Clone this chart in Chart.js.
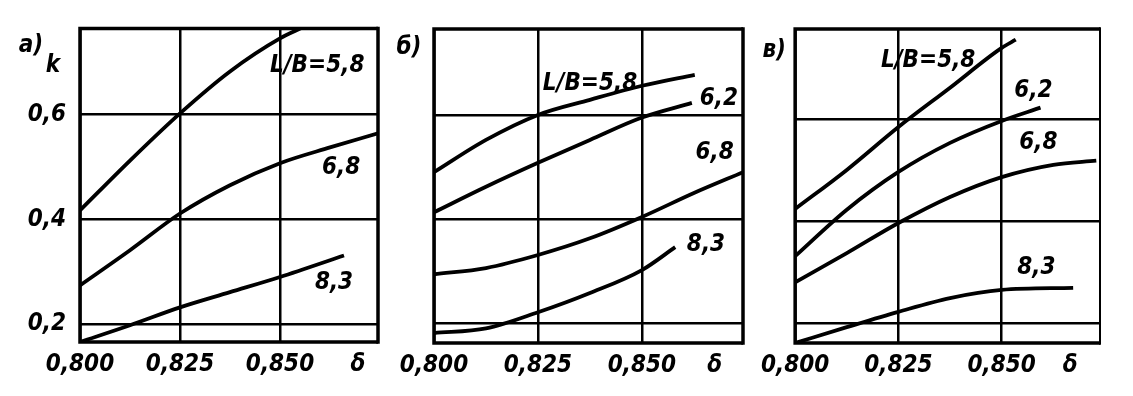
<!DOCTYPE html>
<html><head><meta charset="utf-8">
<script src="https://cdn.jsdelivr.net/npm/chart.js@4"></script>
<style>
html,body{margin:0;padding:0;background:#fff;width:1133px;height:396px;overflow:hidden;}
canvas{position:absolute;top:0;}
</style></head><body>
<canvas id="ca" width="390" height="396" style="left:0px"></canvas>
<canvas id="cb" width="363" height="396" style="left:390px"></canvas>
<canvas id="cc" width="380" height="396" style="left:753px"></canvas>
<script>
// ---- tick labels ----
const xTickValues = [0.800, 0.825, 0.850];
const xTickLabels = ['0,800', '0,825', '0,850'];
const xAxisTitle = 'δ';
const yTickValues = [0.2, 0.4, 0.6];
const yTickLabels = ['0,2', '0,4', '0,6'];
const yAxisTitle = 'k';
const panelNames = ['а)', 'б)', 'в)'];

// ---- panel а ----
const aDelta58 = [0.800, 0.8125, 0.825, 0.8375, 0.850, 0.856];
const aK58     = [0.417, 0.512, 0.602, 0.682, 0.745, 0.767];
const aDelta68 = [0.800, 0.8125, 0.825, 0.8375, 0.850, 0.8625, 0.8745];
const aK68     = [0.274, 0.341, 0.411, 0.465, 0.507, 0.537, 0.564];
const aDelta83 = [0.800, 0.8125, 0.825, 0.8375, 0.850, 0.866];
const aK83     = [0.166, 0.198, 0.232, 0.261, 0.290, 0.331];

// ---- panel б ----
const bDelta58 = [0.800, 0.8125, 0.825, 0.8375, 0.850, 0.8627];
const bK58     = [0.490, 0.552, 0.600, 0.629, 0.656, 0.677];
const bDelta62 = [0.800, 0.8125, 0.825, 0.8375, 0.850, 0.862];
const bK62     = [0.413, 0.462, 0.508, 0.552, 0.595, 0.623];
const bDelta68 = [0.800, 0.8125, 0.825, 0.8375, 0.850, 0.8625, 0.8743];
const bK68     = [0.294, 0.306, 0.331, 0.363, 0.404, 0.450, 0.490];
const bDelta83 = [0.800, 0.8125, 0.825, 0.8375, 0.850, 0.858];
const bK83     = [0.181, 0.190, 0.221, 0.258, 0.302, 0.346];

// ---- panel в ----
const cDelta58 = [0.800, 0.8125, 0.825, 0.8375, 0.850, 0.8534];
const cK58     = [0.4235, 0.500, 0.584, 0.661, 0.739, 0.755];
const cDelta62 = [0.800, 0.8125, 0.825, 0.8375, 0.850, 0.8594];
const cK62     = [0.331, 0.422, 0.496, 0.553, 0.596, 0.622];
const cDelta68 = [0.800, 0.8125, 0.825, 0.8375, 0.850, 0.8625, 0.8729];
const cK68     = [0.280, 0.337, 0.396, 0.447, 0.486, 0.510, 0.518];
const cDelta83 = [0.800, 0.8125, 0.825, 0.8375, 0.850, 0.8673];
const cK83     = [0.161, 0.192, 0.222, 0.249, 0.265, 0.269];

const seriesNames = ['L/B=5,8', '6,2', '6,8', '8,3'];

const FAMILY = "'Liberation Sans Narrow','DejaVu Sans Condensed','DejaVu Sans',sans-serif";
const FONT = {family: FAMILY, size: 24, style: 'italic', weight: 'bold'};

function makePanel(id, cfg) {
  const datasets = cfg.series.map(s => ({
    label: s.name,
    data: s.x.map((x, i) => ({x: x, y: s.y[i]})),
    borderColor: '#000', borderWidth: 3.8, pointRadius: 0,
    cubicInterpolationMode: 'monotone', fill: false, clip: 0
  }));
  const deco = {
    id: 'deco' + id,
    afterDraw(chart) {
      const {ctx, chartArea: a, scales} = chart;
      ctx.save();
      ctx.strokeStyle = '#000';
      ctx.lineWidth = 3.5;
      ctx.beginPath();
      ctx.moveTo(a.right, a.top); ctx.lineTo(a.left, a.top);
      ctx.lineTo(a.left, a.bottom); ctx.lineTo(a.right, a.bottom);
      ctx.stroke();
      ctx.lineWidth = cfg.rightBorder;
      ctx.beginPath();
      ctx.moveTo(a.right, a.top - 1.75); ctx.lineTo(a.right, a.bottom + 1.75);
      ctx.stroke();
      ctx.fillStyle = '#000';
      ctx.font = 'italic bold 24px ' + FAMILY;
      ctx.textAlign = 'center';
      ctx.textBaseline = 'middle';
      cfg.series.forEach(s => {
        ctx.fillText(s.name, scales.x.getPixelForValue(s.lx), scales.y.getPixelForValue(s.ly));
      });
      ctx.fillText(cfg.title, a.left + cfg.titleDx, a.top + cfg.titleDy);
      if (cfg.showY) ctx.fillText(yAxisTitle, a.left - 27, a.top + 37);
      ctx.restore();
    }
  };
  return new Chart(document.getElementById(id), {
    type: 'line',
    data: {datasets},
    plugins: [deco],
    options: {
      responsive: false, animation: false, devicePixelRatio: 1,
      layout: {padding: {left: 0, right: cfg.padR, top: cfg.padT, bottom: 0}},
      plugins: {legend: {display: false}, tooltip: {enabled: false}},
      scales: {
        x: {
          type: 'linear', min: 0.8, max: cfg.xMax,
          afterBuildTicks: s => { s.ticks = xTickValues.concat([cfg.deltaPos]).map(v => ({value: v})); },
          ticks: {
            autoSkip: false, maxRotation: 0, padding: 8, color: '#000', font: FONT,
            callback: (v, i) => i < xTickLabels.length ? xTickLabels[i] : xAxisTitle
          },
          grid: {
            color: c => (c.index < xTickLabels.length ? '#000' : 'rgba(0,0,0,0)'),
            lineWidth: 2.5, drawTicks: false
          },
          border: {display: false},
          afterFit: s => { s.height = cfg.xH; }
        },
        y: {
          type: 'linear', min: cfg.yMin, max: cfg.yMax,
          afterBuildTicks: s => { s.ticks = yTickValues.map(v => ({value: v})); },
          ticks: {
            display: cfg.showY, padding: 14, color: '#000', font: FONT,
            callback: (v, i) => yTickLabels[i]
          },
          grid: {color: '#000', lineWidth: 2.5, drawTicks: false},
          border: {display: false},
          afterFit: s => { s.width = cfg.yW; }
        }
      }
    }
  });
}

makePanel('ca', {
  title: panelNames[0], titleDx: -49, titleDy: 17, showY: true, rightBorder: 3.5,
  yW: 80, padR: 12, padT: 28, xH: 54, xMax: 0.8745, yMin: 0.166, yMax: 0.764, deltaPos: 0.8695,
  series: [
    {name: seriesNames[0], x: aDelta58, y: aK58, lx: 0.8593, ly: 0.693},
    {name: seriesNames[2], x: aDelta68, y: aK68, lx: 0.8653, ly: 0.499},
    {name: seriesNames[3], x: aDelta83, y: aK83, lx: 0.8635, ly: 0.278}
  ]
});
makePanel('cb', {
  title: panelNames[1], titleDx: -25, titleDy: 19, showY: false, rightBorder: 3.5,
  yW: 44, padR: 10, padT: 29, xH: 53, xMax: 0.8743, yMin: 0.162, yMax: 0.765, deltaPos: 0.8675,
  series: [
    {name: seriesNames[0], x: bDelta58, y: bK58, lx: 0.8375, ly: 0.660},
    {name: seriesNames[1], x: bDelta62, y: bK62, lx: 0.8685, ly: 0.631},
    {name: seriesNames[2], x: bDelta68, y: bK68, lx: 0.8675, ly: 0.527},
    {name: seriesNames[3], x: bDelta83, y: bK83, lx: 0.8654, ly: 0.350}
  ]
});
makePanel('cc', {
  title: panelNames[2], titleDx: -21, titleDy: 22, showY: false, rightBorder: 2,
  yW: 40, padR: 33, padT: 29, xH: 53, xMax: 0.8738, yMin: 0.161, yMax: 0.776, deltaPos: 0.8666,
  series: [
    {name: seriesNames[0], x: cDelta58, y: cK58, lx: 0.8322, ly: 0.714},
    {name: seriesNames[1], x: cDelta62, y: cK62, lx: 0.8577, ly: 0.655},
    {name: seriesNames[2], x: cDelta68, y: cK68, lx: 0.8589, ly: 0.553},
    {name: seriesNames[3], x: cDelta83, y: cK83, lx: 0.8584, ly: 0.308}
  ]
});
</script>
</body></html>
